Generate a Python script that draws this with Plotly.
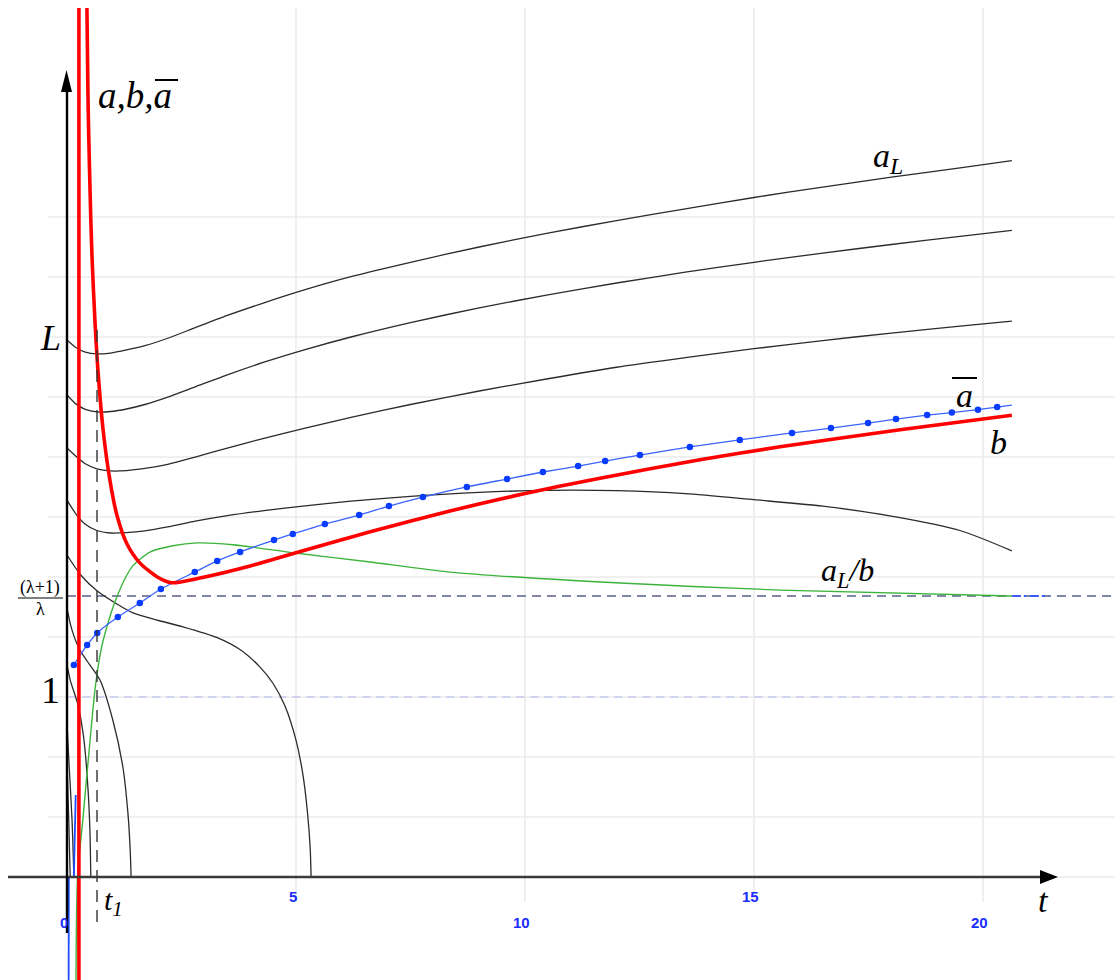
import plotly.graph_objects as go

# ---------------- data (t on the horizontal axis, value on the vertical axis) ----------------
# family of a_L solutions, top to bottom (the four upper ones share one t grid)
aL_t = [0, 0.2, 0.4, 0.65, 0.95, 1.3, 1.7, 2.2, 2.8, 3.5, 4.3, 5.2, 6.2, 7.5, 9.0, 10.5, 12.0, 13.5, 15.0,
        16.5, 18.0, 19.5, 20.63]
aL1_y = [2.983, 2.94, 2.916, 2.906, 2.911, 2.928, 2.952, 2.993, 3.052, 3.12, 3.19, 3.263, 3.335, 3.415, 3.50,
         3.577, 3.647, 3.712, 3.775, 3.833, 3.888, 3.94, 3.98]
aL2_y = [2.678, 2.627, 2.598, 2.584, 2.586, 2.60, 2.625, 2.666, 2.723, 2.79, 2.86, 2.93, 3.0, 3.08, 3.162,
         3.234, 3.30, 3.36, 3.415, 3.466, 3.514, 3.559, 3.592]
aL3_y = [2.383, 2.336, 2.296, 2.268, 2.256, 2.258, 2.27, 2.293, 2.333, 2.383, 2.437, 2.494, 2.553, 2.625, 2.70,
         2.768, 2.832, 2.885, 2.935, 2.98, 3.022, 3.06, 3.088]
aL4_y = [2.094, 2.015, 1.96, 1.925, 1.911, 1.913, 1.923, 1.945, 1.977, 2.008, 2.036, 2.062, 2.088, 2.115, 2.137,
         2.148, 2.146, 2.13, 2.096, 2.06, 2.005, 1.925, 1.812]

aL5_t = [0, 0.3, 0.66, 1.09, 1.44, 2.0, 2.53, 3.28, 3.8, 4.2, 4.5, 4.76, 5.0, 5.15, 5.25, 5.31, 5.33]
aL5_y = [1.789, 1.678, 1.589, 1.517, 1.467, 1.425, 1.39, 1.33, 1.26, 1.17, 1.075, 0.95, 0.76, 0.57, 0.36, 0.16, 0]

aL6_t = [0, 0.1, 0.28, 0.44, 0.72, 1.0, 1.22, 1.33, 1.38, 1.40]
aL6_y = [1.494, 1.38, 1.261, 1.2, 1.094, 0.872, 0.611, 0.356, 0.15, 0]

aL7_t = [0, 0.07, 0.24, 0.37, 0.46, 0.5, 0.52]
aL7_y = [1.178, 1.094, 0.956, 0.761, 0.483, 0.261, 0]

aL8_t = [0, 0.04, 0.11, 0.15]
aL8_y = [0.856, 0.65, 0.317, 0]

aL9_t = [0, 0.04, 0.07]
aL9_y = [0.65, 0.3, 0]

# b(t)
b_t = [0.435, 0.46, 0.49, 0.52, 0.55, 0.61, 0.68, 0.79, 0.94, 1.09, 1.31, 1.59, 1.97, 2.29, 2.9, 4.0, 4.98,
       6.62, 8.36, 10.0, 11.64, 13.82, 15.57, 18.19, 20.63]
b_y = [4.828, 4.3, 3.95, 3.65, 3.42, 3.09, 2.8, 2.48, 2.2, 2.01, 1.85, 1.745, 1.667, 1.635, 1.661, 1.728, 1.8,
       1.918, 2.033, 2.13, 2.215, 2.318, 2.39, 2.485, 2.565]
b_branch_t = 0.26          # vertical branch of b

# a-bar(t): sampled points (markers) and curve end
abar_t = [0.15, 0.44, 0.66, 1.11, 1.59, 2.05, 2.79, 3.28, 3.78, 4.52, 4.93, 5.63, 6.38, 7.03, 7.77, 8.73,
          9.61, 10.39, 11.16, 11.75, 12.51, 13.6, 14.69, 15.83, 16.68, 17.49, 18.1, 18.78, 19.32, 19.89, 20.31]
abar_y = [1.178, 1.289, 1.356, 1.444, 1.522, 1.6, 1.694, 1.756, 1.806, 1.872, 1.906, 1.961, 2.011, 2.061, 2.111, 2.167,
          2.211, 2.25, 2.283, 2.311, 2.344, 2.389, 2.428, 2.467, 2.494, 2.522, 2.544, 2.566, 2.58, 2.596, 2.611]
abar_end = (20.63, 2.622)
abar_seg1_t = [0.19, 0.15]
abar_seg1_y = [0.456, 0]
abar_seg2_t = [0.04, 0.035]
abar_seg2_y = [0, -0.65]

# a_L / b
ratio_t = [0.195, 0.23, 0.35, 0.5, 0.62, 0.75, 0.87, 1.05, 1.27, 1.44, 1.81, 2.31, 2.84, 3.62, 4.98,
           6.62, 8.36, 11.64, 15.57, 20.63]
ratio_y = [-0.65, 0, 0.33, 0.75, 1.06, 1.27, 1.389, 1.53, 1.66, 1.73, 1.805, 1.84, 1.856, 1.846, 1.8,
           1.75, 1.694, 1.639, 1.594, 1.561]

# reference levels
L_level = 2.983
lam_level = 1.561      # (lambda+1)/lambda
one_level = 1.0
t1 = 0.655
t_end = 20.63

x_ticks = [0, 5, 10, 15, 20]
x_tick_text = ["0", "5", "10", "15", "20"]
x_tick_row = [-0.255, -0.111, -0.255, -0.111, -0.255]

# ---------------- geometry of the canvas ----------------
W, H = 1115, 980
X0, XS = 67.0, 45.8        # pixel of t=0, pixels per unit t
Y0, YS = 877.0, 180.0      # pixel of value 0, pixels per unit value
x_rng = [-X0 / XS, (W - X0) / XS]
y_rng = [(Y0 - H) / YS, Y0 / YS]


def px(x):
    return x / W


def py(y):
    return 1 - y / H


fig = go.Figure()
shapes = []
annotations = []

# grid
GRID = "#ebebeb"
for xv in x_ticks[1:]:
    shapes.append(dict(type="line", xref="x", yref="paper", x0=xv, x1=xv, y0=py(902), y1=py(8),
                       line=dict(color=GRID, width=1.6), layer="below"))
for k in range(0, 12):
    shapes.append(dict(type="line", xref="paper", yref="y", x0=px(48), x1=1, y0=k / 3, y1=k / 3,
                       line=dict(color=GRID, width=1.6), layer="below"))

# reference lines
shapes.append(dict(type="line", xref="x", yref="y", x0=0, x1=x_rng[1], y0=lam_level, y1=lam_level,
                   line=dict(color="#8287a8", width=2, dash="9px,6px"), layer="below"))
shapes.append(dict(type="line", xref="x", yref="y", x0=0.03, x1=x_rng[1], y0=one_level, y1=one_level,
                   line=dict(color="#aeb6ee", width=1.2, dash="8px,6px"), layer="below"))
shapes.append(dict(type="line", xref="x", yref="y", x0=t_end, x1=t_end + 0.8, y0=lam_level, y1=lam_level,
                   line=dict(color="#3d5cf5", width=2.2, dash="dashdot"), layer="above"))
shapes.append(dict(type="line", xref="x", yref="y", x0=t1, x1=t1, y0=-0.25, y1=3.078,
                   line=dict(color="#333333", width=1.4, dash="12px,8px")))

BLACK = "#2b2b2b"
for tt, yy in [(aL_t, aL1_y), (aL_t, aL2_y), (aL_t, aL3_y), (aL_t, aL4_y), (aL5_t, aL5_y),
               (aL6_t, aL6_y), (aL7_t, aL7_y), (aL8_t, aL8_y), (aL9_t, aL9_y)]:
    fig.add_trace(go.Scatter(x=tt, y=yy, mode="lines", line=dict(color=BLACK, width=1.3, shape="spline",
                                                                   smoothing=0.7), hoverinfo="skip"))

# a_L / b
fig.add_trace(go.Scatter(x=ratio_t, y=ratio_y, mode="lines",
                         line=dict(color="#3cb43c", width=1.4, shape="spline", smoothing=0.7)))

# a-bar
BLUE = "#1f4dff"
fig.add_trace(go.Scatter(x=abar_seg1_t, y=abar_seg1_y, mode="lines", line=dict(color=BLUE, width=1.8)))
fig.add_trace(go.Scatter(x=abar_seg2_t, y=abar_seg2_y, mode="lines", line=dict(color=BLUE, width=1.8)))
fig.add_trace(go.Scatter(x=abar_t + [abar_end[0]], y=abar_y + [abar_end[1]], mode="lines",
                         line=dict(color="#3a63ff", width=1.3, shape="spline", smoothing=0.6)))
fig.add_trace(go.Scatter(x=abar_t, y=abar_y, mode="markers",
                         marker=dict(color="#0a3cff", size=6.5, line=dict(width=0))))

# b
RED = "#ff0000"
fig.add_trace(go.Scatter(x=[b_branch_t, b_branch_t], y=[y_rng[0] - 0.1, 4.828], mode="lines",
                         line=dict(color=RED, width=3.6)))
fig.add_trace(go.Scatter(x=b_t, y=b_y, mode="lines",
                         line=dict(color=RED, width=3.6, shape="spline", smoothing=0.7)))

# axes with arrow heads
AX = "#3a3a3a"
shapes.append(dict(type="line", xref="paper", yref="y", x0=px(8), x1=px(1045), y0=0, y1=0,
                   line=dict(color=AX, width=2.6)))
shapes.append(dict(type="path", xref="paper", yref="paper",
                   path=f"M {px(1058)} {py(877)} L {px(1040)} {py(870)} L {px(1040)} {py(884)} Z",
                   fillcolor="#000000", line=dict(width=0)))
shapes.append(dict(type="line", xref="x", yref="paper", x0=0, x1=0, y0=py(933), y1=py(88),
                   line=dict(color="#000000", width=2.4)))
shapes.append(dict(type="path", xref="paper", yref="paper",
                   path=f"M {px(66.5)} {py(70)} L {px(61)} {py(92)} L {px(72)} {py(92)} Z",
                   fillcolor="#000000", line=dict(width=0)))

# tick labels
for xv, txt, yv in zip(x_ticks, x_tick_text, x_tick_row):
    annotations.append(dict(x=xv - 0.07, y=yv, xref="x", yref="y", text=f"<b>{txt}</b>", showarrow=False,
                            font=dict(family="Liberation Sans Narrow, Arial Narrow, sans-serif", size=15,
                                      color="#1a2cff"), xanchor="center", yanchor="middle"))

SERIF = "Liberation Serif, Times New Roman, serif"


def label(x, y, text, size, xanchor="center"):
    annotations.append(dict(x=px(x), y=py(y), xref="paper", yref="paper", text=text, showarrow=False,
                            font=dict(family=SERIF, size=size, color="#000000"),
                            xanchor=xanchor, yanchor="middle"))


label(135, 96, "<i>a,b,a</i>", 37)
shapes.append(dict(type="line", xref="paper", yref="paper", x0=px(155), x1=px(178), y0=py(80), y1=py(80),
                   line=dict(color="#000000", width=2)))
label(50, 338, "<i>L</i>", 36)
label(40, 587, "(λ+1)", 18)
shapes.append(dict(type="line", xref="paper", yref="paper", x0=px(18), x1=px(63), y0=py(598), y1=py(598),
                   line=dict(color="#000000", width=1.2)))
label(40, 609, "λ", 18)
label(50, 690, "1", 38)
label(888, 158, "<i>a<sub>L</sub></i>", 34)
label(965, 396, "<i>a</i>", 34)
shapes.append(dict(type="line", xref="paper", yref="paper", x0=px(952), x1=px(977), y0=py(378), y1=py(378),
                   line=dict(color="#000000", width=2)))
label(998, 442, "<i>b</i>", 34)
label(847, 572, "<i>a<sub>L</sub>/b</i>", 32)
label(113, 902, "<i>t<sub>1</sub></i>", 30)
label(1043, 900, "<i>t</i>", 34)

fig.update_layout(
    width=W, height=H, autosize=False,
    margin=dict(l=0, r=0, t=0, b=0),
    paper_bgcolor="#ffffff", plot_bgcolor="#ffffff",
    showlegend=False,
    xaxis=dict(range=x_rng, visible=False, fixedrange=True),
    yaxis=dict(range=y_rng, visible=False, fixedrange=True),
    shapes=shapes, annotations=annotations,
)

fig.write_html("out.html")
